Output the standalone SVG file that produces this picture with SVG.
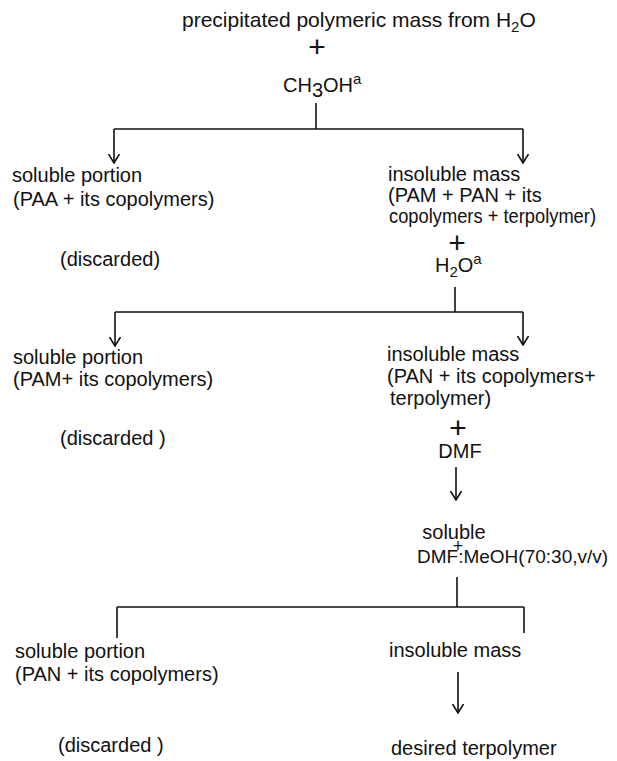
<svg xmlns="http://www.w3.org/2000/svg" width="617" height="761" viewBox="0 0 617 761">
<defs>
<style>
text{font-family:"Liberation Sans",Arial,sans-serif;font-size:20px;fill:#111}
.title{font-size:21px}
.plus{font-size:30px}
.sub{font-size:15px}
.c{text-anchor:middle}
.ln{fill:none;stroke:#111;stroke-width:1.6}
</style>
<marker id="arr" viewBox="0 0 10 12" refX="9.5" refY="6" markerWidth="10" markerHeight="12" markerUnits="userSpaceOnUse" orient="auto">
<path d="M0.5,0.5 L9.5,6 L0.5,11.5" fill="none" stroke="#111" stroke-width="1.6"/>
</marker>
</defs>
<rect width="617" height="761" fill="#fff"/>
<g id="connectors">
<path class="ln" d="M316,103 V129"/>
<path class="ln" d="M114,129 H523"/>
<path class="ln" d="M114,129 V163" marker-end="url(#arr)"/>
<path class="ln" d="M523,129 V163" marker-end="url(#arr)"/>
<path class="ln" d="M455,287 V312"/>
<path class="ln" d="M115,312 H523"/>
<path class="ln" d="M115,312 V346" marker-end="url(#arr)"/>
<path class="ln" d="M523,312 V345" marker-end="url(#arr)"/>
<path class="ln" d="M456,467 V500" marker-end="url(#arr)"/>
<path class="ln" d="M457,577 V607"/>
<path class="ln" d="M117,607 H524"/>
<path class="ln" d="M117,607 V638"/>
<path class="ln" d="M524,607 V633"/>
<path class="ln" d="M458,672 V713" marker-end="url(#arr)"/>
</g>
<g id="start">
<text class="title" x="182" y="27">precipitated polymeric mass from H<tspan class="sub" dy="5">2</tspan><tspan dy="-5">O</tspan></text>
<text class="plus c" x="317" y="57">+</text>
<text x="283" y="92">CH<tspan dy="5">3</tspan><tspan dy="-5">OH</tspan><tspan class="sub" dy="-8">a</tspan></text>
</g>
<g id="soluble1">
<text x="12" y="182">soluble portion</text>
<text x="13" y="206">(PAA + its copolymers)</text>
<text x="60" y="266">(discarded)</text>
</g>
<g id="insoluble1">
<text x="388" y="181">insoluble mass</text>
<text x="388" y="202">(PAM + PAN + its</text>
<text x="389" y="223" textLength="207" lengthAdjust="spacingAndGlyphs">copolymers + terpolymer)</text>
<text class="plus c" x="457" y="253">+</text>
<text x="435" y="272">H<tspan class="sub" dy="5">2</tspan><tspan dy="-5">O</tspan><tspan class="sub" dy="-8">a</tspan></text>
</g>
<g id="soluble2">
<text x="13" y="364">soluble portion</text>
<text x="13" y="386">(PAM+ its copolymers)</text>
<text x="60" y="445">(discarded )</text>
</g>
<g id="insoluble2">
<text x="387" y="361">insoluble mass</text>
<text x="387" y="383">(PAN + its copolymers+</text>
<text x="390" y="405">terpolymer)</text>
<text class="plus c" x="458" y="438">+</text>
<text class="c" x="460" y="458">DMF</text>
</g>
<g id="soluble-dmf">
<text class="c" x="454" y="539">soluble</text>
<text class="c" x="458" y="552" style="font-size:18px">+</text>
<text x="417" y="563" style="font-size:19px">DMF:MeOH(70:30,v/v)</text>
</g>
<g id="soluble3">
<text x="15" y="658">soluble portion</text>
<text x="15" y="681">(PAN + its copolymers)</text>
<text x="58" y="752">(discarded )</text>
</g>
<g id="insoluble3">
<text x="389" y="657">insoluble mass</text>
</g>
<g id="product">
<text x="391" y="755">desired terpolymer</text>
</g>
</svg>
